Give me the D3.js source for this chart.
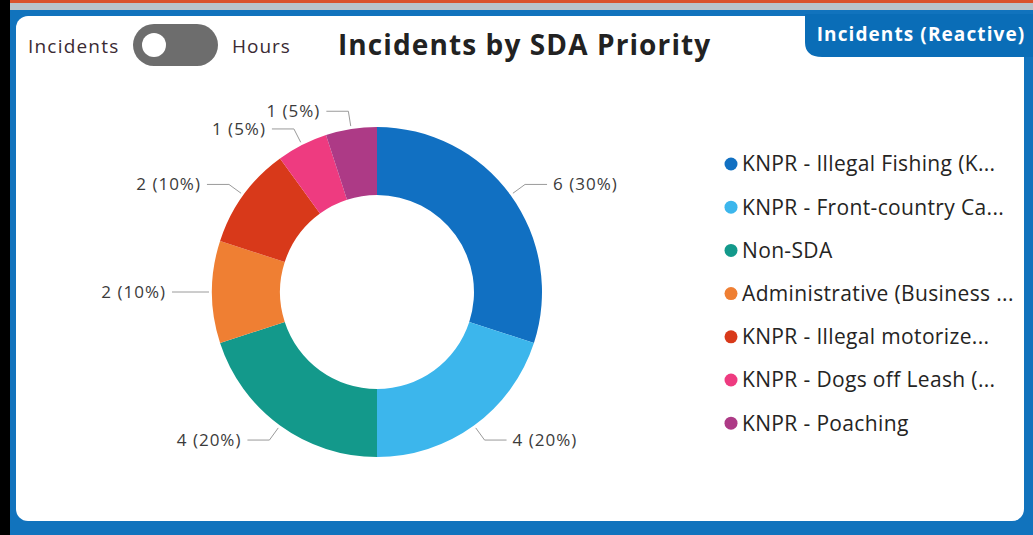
<!DOCTYPE html>
<html>
<head>
<meta charset="utf-8">
<script src="https://cdn.jsdelivr.net/npm/d3@7"></script>
<style>
  body { margin: 0; background: #000; }
  svg { display: block; }
  text { font-family: "Open Sans", "Noto Sans", sans-serif; }
</style>
</head>
<body>
<svg width="1033" height="535"></svg>
<script>
// data
const categories = [
  "KNPR - Illegal Fishing (K...",
  "KNPR - Front-country Ca...",
  "Non-SDA",
  "Administrative (Business ...",
  "KNPR - Illegal motorize...",
  "KNPR - Dogs off Leash (...",
  "KNPR - Poaching"
];
const values = [6, 4, 4, 2, 2, 1, 1];
const colors = ["#1170c2", "#3cb6ec", "#13998b", "#ef7f33", "#d8391a", "#ee3b80", "#ad3a86"];

const svg = d3.select("svg");
const W = 1033, H = 535;

// frame
svg.append("rect").attr("x", 0).attr("y", 0).attr("width", W).attr("height", H).attr("fill", "#000");
svg.append("rect").attr("x", 10).attr("y", 0).attr("width", W - 10).attr("height", H).attr("fill", "#1173bd");
svg.append("rect").attr("x", 10).attr("y", 0).attr("width", W - 10).attr("height", 3).attr("fill", "#d9522a");
svg.append("rect").attr("x", 10).attr("y", 3).attr("width", W - 10).attr("height", 7).attr("fill", "#b9c3c8");
svg.append("rect")
  .attr("x", 16).attr("y", 16).attr("width", 1008).attr("height", 505)
  .attr("rx", 12).attr("fill", "#fff");

// badge
svg.append("path")
  .attr("d", "M805,14 H1033 V57 H822 Q805,57 805,42 Z")
  .attr("fill", "#0a6db7");
svg.append("text")
  .attr("x", 921).attr("y", 41)
  .attr("text-anchor", "middle")
  .attr("fill", "#fff")
  .attr("font-weight", "bold")
  .attr("font-size", 19)
  .attr("letter-spacing", 1.1)
  .text("Incidents (Reactive)");

// toggle
svg.append("text").attr("x", 28).attr("y", 53).attr("font-size", 19).attr("letter-spacing", 1.2)
  .attr("fill", "#3a2a33").text("Incidents");
svg.append("rect").attr("x", 133).attr("y", 24).attr("width", 85).attr("height", 42).attr("rx", 21).attr("fill", "#6d6d6d");
svg.append("circle").attr("cx", 154).attr("cy", 45).attr("r", 12).attr("fill", "#fff");
svg.append("text").attr("x", 232).attr("y", 53).attr("font-size", 19).attr("letter-spacing", 1)
  .attr("fill", "#3a2a33").text("Hours");

// title
svg.append("text")
  .attr("x", 338).attr("y", 55)
  .attr("font-size", 28)
  .attr("font-weight", "bold")
  .attr("letter-spacing", 1.1)
  .attr("fill", "#222")
  .text("Incidents by SDA Priority");

// donut
const cx = 377, cy = 292, R = 165, r0 = 97;
const total = d3.sum(values);
const pie = d3.pie().sort(null).value(d => d.value);
const data = categories.map((c, i) => ({ name: c, value: values[i], color: colors[i] }));
const arcs = pie(data);
const arc = d3.arc().innerRadius(r0).outerRadius(R);
const arcIn = d3.arc().innerRadius(R + 3).outerRadius(R + 3);
const arcOut = d3.arc().innerRadius(R + 18).outerRadius(R + 18);

const g = svg.append("g").attr("transform", `translate(${cx},${cy})`);
g.selectAll("path.slice")
  .data(arcs)
  .enter()
  .append("path")
  .attr("class", "slice")
  .attr("d", arc)
  .attr("fill", d => d.data.color);

// labels
const pct = d3.format(".0%");
arcs.forEach(d => {
  const mid = (d.startAngle + d.endAngle) / 2;
  const p0 = arcIn.centroid(d);
  const p1 = arcOut.centroid(d);
  const right = mid < Math.PI;
  const p2 = [p1[0] + (right ? 22 : -22), p1[1]];
  g.append("polyline")
    .attr("points", [p0, p1, p2].map(p => p.join(",")).join(" "))
    .attr("fill", "none")
    .attr("stroke", "#9a9a9a")
    .attr("stroke-width", 1);
  g.append("text")
    .attr("x", p2[0] + (right ? 6 : -6))
    .attr("y", p2[1])
    .attr("dy", "0.35em")
    .attr("text-anchor", right ? "start" : "end")
    .attr("font-size", 17)
    .attr("letter-spacing", 1)
    .attr("fill", "#3b3b3b")
    .text(`${d.data.value} (${pct(d.data.value / total)})`);
});

// legend
const legend = svg.append("g").attr("transform", "translate(731,164)");
const rows = legend.selectAll("g.row")
  .data(data)
  .enter()
  .append("g")
  .attr("class", "row")
  .attr("transform", (d, i) => `translate(0,${i * 43.2})`);
rows.append("circle").attr("r", 6.5).attr("fill", d => d.color);
rows.append("text")
  .attr("x", 11)
  .attr("dy", "0.35em")
  .attr("font-size", 21)
  .attr("letter-spacing", 0.35)
  .attr("fill", "#252423")
  .text(d => d.name);
</script>
</body>
</html>
